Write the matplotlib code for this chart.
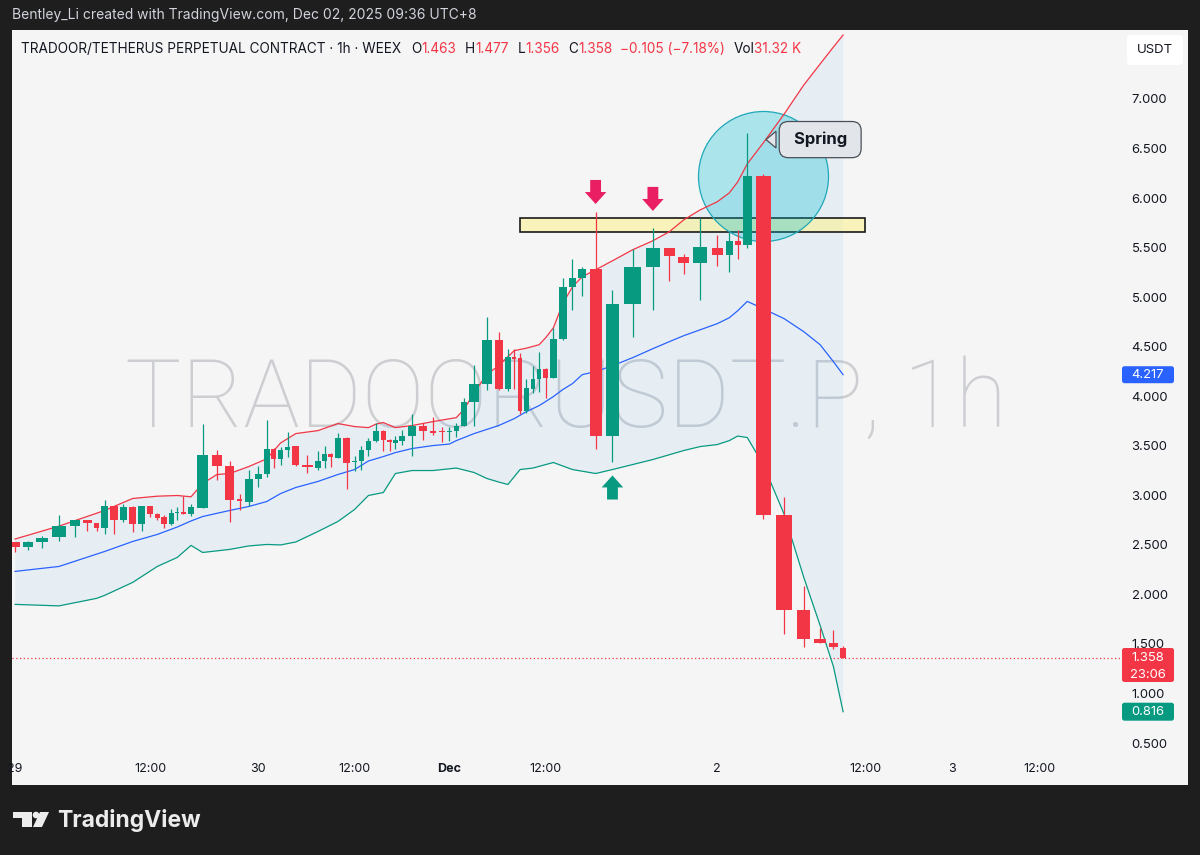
import numpy as np
import matplotlib
matplotlib.use("Agg")
import matplotlib.pyplot as plt
from matplotlib.patches import Rectangle, Polygon, Circle, FancyBboxPatch
from matplotlib.transforms import IdentityTransform

plt.rcParams['font.family'] = ['Inter', 'DejaVu Sans']

# TRADOOR/USDT perpetual, 1h candles, Nov 29 00:00 -> Dec 2 09:00 (UTC+8)
opens = [2.524, 2.474, 2.525, 2.578, 2.689, 2.750, 2.716, 2.672, 2.890, 2.750,
         2.885, 2.710, 2.890, 2.810, 2.785, 2.710, 2.820, 2.835, 2.810, 2.874,
         3.404, 3.293, 2.960, 2.930, 3.160, 3.220, 3.470, 3.370, 3.460, 3.495,
         3.310, 3.277, 3.350, 3.420, 3.378, 3.580, 3.334, 3.350, 3.460, 3.545,
         3.653, 3.560, 3.530, 3.545, 3.596, 3.700, 3.646, 3.645, 3.635, 3.646,
         3.700, 3.939, 4.127, 4.571, 4.075, 4.400, 4.386, 3.848, 4.075, 4.174,
         4.270, 4.185, 4.578, 5.102, 5.190, 5.283, 3.596, 4.933, 5.303, 5.495,
         5.410, 5.344, 5.495, 5.427, 5.569, 5.528, 6.224, 2.806, 1.842, 1.546,
         1.513, 1.463]
highs = [2.530, 2.538, 2.590, 2.806, 2.750, 2.755, 2.720, 2.951, 2.895, 2.910,
         2.890, 2.890, 2.893, 2.820, 2.800, 2.865, 2.880, 2.990, 2.910, 3.724,
         3.455, 3.350, 3.015, 3.260, 3.300, 3.757, 3.480, 3.485, 3.640, 3.500,
         3.410, 3.445, 3.495, 3.430, 3.630, 3.585, 3.395, 3.495, 3.580, 3.730,
         3.660, 3.565, 3.600, 3.660, 3.825, 3.730, 3.790, 3.690, 3.690, 3.730,
         3.980, 4.319, 4.800, 4.650, 4.480, 4.480, 4.440, 4.170, 4.300, 4.450,
         4.280, 4.690, 5.190, 5.384, 5.300, 5.864, 5.075, 5.485, 5.697, 5.500,
         5.440, 5.797, 5.630, 5.662, 5.680, 6.654, 6.244, 2.985, 2.084, 1.664,
         1.640, 1.477]
lows = [2.427, 2.447, 2.470, 2.537, 2.575, 2.640, 2.640, 2.612, 2.612, 2.730,
        2.630, 2.640, 2.780, 2.755, 2.670, 2.700, 2.755, 2.810, 2.790, 2.874,
        3.159, 2.729, 2.850, 2.890, 3.080, 3.180, 3.280, 3.310, 3.388, 3.300,
        3.227, 3.255, 3.277, 3.290, 3.378, 3.065, 3.244, 3.260, 3.400, 3.536,
        3.445, 3.445, 3.465, 3.510, 3.400, 3.560, 3.610, 3.540, 3.550, 3.590,
        3.700, 3.697, 4.067, 4.060, 4.050, 4.070, 3.820, 3.830, 4.030, 4.040,
        3.980, 4.180, 4.570, 4.873, 5.010, 3.469, 3.334, 4.594, 4.870, 5.158,
        5.236, 4.974, 5.310, 5.249, 5.384, 5.495, 2.763, 1.597, 1.473, 1.510,
        1.446, 1.356]
closes = [2.474, 2.528, 2.570, 2.689, 2.750, 2.720, 2.672, 2.890, 2.750, 2.885,
          2.710, 2.890, 2.810, 2.775, 2.710, 2.820, 2.835, 2.810, 2.880, 3.404,
          3.300, 2.951, 2.940, 3.160, 3.220, 3.470, 3.370, 3.460, 3.489, 3.310,
          3.283, 3.350, 3.420, 3.385, 3.580, 3.328, 3.350, 3.460, 3.545, 3.653,
          3.560, 3.535, 3.560, 3.595, 3.704, 3.646, 3.630, 3.635, 3.652, 3.700,
          3.939, 4.127, 4.571, 4.075, 4.396, 4.380, 3.848, 4.084, 4.174, 4.270,
          4.185, 4.578, 5.102, 5.190, 5.283, 3.596, 4.933, 5.303, 5.495, 5.417,
          5.344, 5.501, 5.427, 5.569, 5.528, 6.224, 2.806, 1.842, 1.546, 1.513,
          1.473, 1.358]
# hourly volume (K) - the chart draws candle width proportional to it
vol_k = [48.9, 52.5, 59.9, 73.2, 53.2, 44.2, 28.6, 34.5, 38.4, 36.8,
         36.4, 35.6, 30.9, 25.1, 28.6, 26.6, 21.9, 26.6, 33.3, 58.7,
         54.0, 47.4, 29.8, 42.3, 34.8, 30.1, 26.6, 26.6, 28.6, 36.0,
         54.8, 29.4, 22.3, 24.7, 34.1, 35.2, 26.6, 26.6, 29.4, 31.3,
         25.8, 23.1, 23.1, 30.5, 47.0, 41.5, 36.0, 32.9, 26.6, 28.6,
         31.3, 49.3, 50.5, 43.8, 28.6, 21.5, 24.7, 25.8, 24.7, 24.7,
         26.6, 34.1, 40.3, 36.0, 41.5, 63.8, 69.3, 90.0, 69.7, 58.7,
         56.4, 74.4, 58.7, 36.8, 29.8, 45.4, 80.6, 85.3, 68.9, 59.9,
         45.0, 31.32]
future_vol = 28.6

# Bollinger bands (20, 2), read at these candle numbers
bb_upper_at = [1, 4, 8, 11, 14, 17, 19, 20, 21, 22, 24, 26, 28, 30, 32, 35, 37, 39, 40, 41,
               43, 45, 47, 50, 51, 52, 53, 54, 55, 56, 58, 60, 61, 62, 63, 64, 65, 66, 67, 68,
               69, 70, 71, 72, 73, 74, 75, 76, 77, 78, 79, 80, 81, 82]
bb_upper = [2.559, 2.689, 2.847, 2.968, 2.991, 2.998, 2.985, 3.119, 3.210, 3.220,
            3.290, 3.368, 3.529, 3.623, 3.653, 3.724, 3.694, 3.683, 3.719, 3.734,
            3.683, 3.704, 3.744, 3.784, 3.865, 4.036, 4.218, 4.309, 4.399, 4.460,
            4.485, 4.520, 4.590, 4.690, 4.933, 5.105, 5.206, 5.276, 5.367, 5.478,
            5.569, 5.659, 5.780, 5.881, 5.962, 6.052, 6.163, 6.345, 6.556, 6.849,
            7.141, 7.353, 7.524, 7.645]
bb_mid_at = [1, 4, 8, 11, 14, 17, 19, 20, 22, 24, 26, 28, 30, 32, 35, 37, 39, 41, 43, 45,
             47, 49, 50, 52, 54, 56, 58, 60, 62, 63, 64, 65, 66, 67, 68, 69, 70, 71, 72, 73,
             74, 75, 76, 77, 78, 79, 80, 81, 82]
bb_mid = [2.232, 2.282, 2.433, 2.534, 2.605, 2.680, 2.741, 2.786, 2.847, 2.887,
          2.937, 3.018, 3.079, 3.140, 3.210, 3.260, 3.346, 3.391, 3.431, 3.472,
          3.502, 3.517, 3.552, 3.623, 3.704, 3.774, 3.845, 3.905, 3.996, 4.067,
          4.127, 4.218, 4.248, 4.308, 4.389, 4.480, 4.550, 4.611, 4.671, 4.732,
          4.792, 4.863, 4.957, 4.883, 4.782, 4.651, 4.520, 4.349, 4.217]
bb_lower_at = [1, 4, 7, 8, 11, 14, 17, 19, 20, 22, 24, 26, 28, 30, 32, 35, 37, 39, 41, 43,
               45, 47, 50, 52, 53, 54, 55, 57, 59, 62, 64, 66, 67, 69, 71, 72, 73, 74, 75, 76,
               77, 78, 79, 80, 81, 82]
bb_lower = [1.899, 1.884, 1.960, 1.990, 2.121, 2.282, 2.373, 2.494, 2.423, 2.454,
            2.489, 2.504, 2.499, 2.529, 2.635, 2.736, 2.857, 2.998, 3.028, 3.220,
            3.250, 3.250, 3.275, 3.230, 3.170, 3.134, 3.109, 3.260, 3.275, 3.331,
            3.260, 3.220, 3.260, 3.361, 3.452, 3.492, 3.512, 3.552, 3.598, 3.583,
            3.310, 2.806, 2.171, 1.687, 1.272, 0.816]

time_labels = ["29", "12:00", "30", "12:00", "Dec", "12:00", "2", "12:00", "3", "12:00"]
time_bars = [0, 12, 24, 36, 48, 60, 72, 84, 96, 108]
price_ticks = [0.5, 1.0, 1.5, 2.0, 2.5, 3.0, 3.5, 4.0, 4.5, 5.0, 5.5, 6.0, 6.5, 7.0]
last_close, countdown = 1.358, "23:06"

GREEN, RED, BLUE, PINK = '#089981', '#f23645', '#2962ff', '#e91e63'
INK = '#131722'
W, H = 1200, 855

# x positions: each hourly bar occupies a slot as wide as its volume
vol = np.array(vol_k)
edges = np.concatenate([[0], np.cumsum(vol)])
x = edges[:-1] + vol / 2


def bar_x(k):
    if k < len(vol):
        return x[k]
    return edges[-1] + future_vol * (k - len(vol)) + future_vol / 2


def px(xp, yp_top):
    return xp, H - yp_top


fig = plt.figure(figsize=(W / 100, H / 100), dpi=100, facecolor='#1e1e1e')
fig.add_artist(Rectangle((12, H - 785), 1176, 755, transform=IdentityTransform(),
                         fc='#f5f5f5', ec='none', zorder=-5))

ax = fig.add_axes([12 / W, 100 / H, 1096 / W, 725 / H])
ax.set_facecolor('none')
for s in ax.spines.values():
    s.set_visible(False)
ax.set_xlim(x[0] - 0.25 * vol[0], edges[-1] + 36 * future_vol)
ax.set_ylim(0.379, 7.696)

# watermark
ax.text(0.5055, 0.488, 'TRADOORUSDT.P, 1h', transform=ax.transAxes, fontsize=68,
        family=['Roboto', 'DejaVu Sans'], fontweight='light', color='#cdced2',
        ha='center', va='center', zorder=0)

# bollinger bands
xu = x[np.array(bb_upper_at) - 1]
xm = x[np.array(bb_mid_at) - 1]
xl = x[np.array(bb_lower_at) - 1]
ax.fill(np.r_[xu, xl[::-1]], np.r_[bb_upper, bb_lower[::-1]], color='#2196f3', alpha=0.07, lw=0, zorder=1)
ax.plot(xu, bb_upper, color=RED, lw=0.9, zorder=4)
ax.plot(xm, bb_mid, color=BLUE, lw=0.9, zorder=4)
ax.plot(xl, bb_lower, color=GREEN, lw=0.9, zorder=4)

# resistance zone and spring circle
zone_lo, zone_hi = 5.659, 5.800
ax.add_patch(Rectangle((x[56], zone_lo), bar_x(84) - x[56], zone_hi - zone_lo,
                       fc=(1.0, 0.945, 0.46, 0.45), ec='#1a1a1a', lw=1.2, zorder=2))
ax.plot([x[76]], [6.22], 'o', ms=93.6, mfc=(0.0, 0.74, 0.83, 0.3), mec='#1fa8b8', mew=0.9, zorder=3)

# candles
o, h, l, c = map(np.array, (opens, highs, lows, closes))
cols = np.where(c >= o, GREEN, RED)
ax.vlines(x, l, h, colors=cols, lw=0.9, zorder=5)
ax.bar(x, np.maximum(np.abs(c - o), 0.012), width=0.75 * vol, bottom=np.minimum(o, c),
       color=cols, lw=0, zorder=6)

# last price line
ax.axhline(last_close, xmax=1.013, color=RED, lw=0.9, ls=(0, (1, 2)), zorder=3, clip_on=False)

# signal arrows
arrow = 'simple,head_length=0.86,head_width=1.55,tail_width=0.78'
for k, yv, dy, col in [(65, 5.94, 17.3, PINK), (68, 5.87, 17.3, PINK), (66, 3.20, -17.3, GREEN)]:
    ax.annotate('', xy=(x[k], yv), xytext=(0, dy), textcoords='offset points',
                arrowprops=dict(arrowstyle=arrow, fc=col, ec='none', mutation_scale=10,
                                shrinkA=0, shrinkB=0), zorder=8)

ax.annotate(' Spring ', xy=(x[76], 6.59), xytext=(41, 0), textcoords='offset points',
            ha='center', va='center', fontsize=12, fontweight='bold', color=INK,
            bbox=dict(boxstyle='round,pad=0.62,rounding_size=0.55', fc='#e2e6ea', ec='#4b4f58', lw=0.9),
            arrowprops=dict(arrowstyle='wedge,tail_width=1.0,shrink_factor=0.5',
                            fc='#e2e6ea', ec='#4b4f58', lw=0.9), zorder=9)

# axes ticks
ax.set_yticks(price_ticks)
ax.set_yticklabels([f'{v:.3f}' for v in price_ticks])
ax.yaxis.tick_right()
ax.tick_params(axis='y', length=0, pad=17, labelsize=9.4, labelcolor=INK)
ax.set_xticks([bar_x(k) for k in time_bars])
ax.set_xticklabels(time_labels)
ax.tick_params(axis='x', length=0, pad=6, labelsize=9, labelcolor=INK)
ax.get_xticklabels()[4].set_fontweight('bold')


# price scale tags
def tag(price, lines, color, up_px, down_px):
    yc = ax.transData.transform((0, price))[1]
    fig.add_artist(FancyBboxPatch((1122, yc - down_px), 52, up_px + down_px,
                                  boxstyle='round,pad=0,rounding_size=2.5',
                                  transform=IdentityTransform(), fc=color, ec='none', zorder=10))
    for i, s in enumerate(lines):
        fig.text(1148, yc - 17 * i, s, transform=IdentityTransform(), color='white',
                 fontsize=9.4, ha='center', va='center', zorder=11)


tag(bb_mid[-1], ['4.217'], BLUE, 8.5, 8.5)
tag(last_close, [f'{last_close:.3f}', countdown], RED, 10, 24)
tag(bb_lower[-1], ['0.816'], GREEN, 9, 9)

fig.add_artist(FancyBboxPatch(px(1127, 65), 56, 30, boxstyle='round,pad=0,rounding_size=4',
                              transform=IdentityTransform(), fc='white', ec='none', zorder=10))
fig.text(*px(1155, 50), 'USDT', transform=IdentityTransform(), color=INK, fontsize=9.5,
         ha='center', va='center', zorder=11)

# header lines
fig.text(*px(12, 15), 'Bentley_Li created with TradingView.com, Dec 02, 2025 09:36 UTC+8',
         transform=IdentityTransform(), color='#d1d4dc', fontsize=10, va='center')

renderer = fig.canvas.get_renderer()
pieces = [('TRADOOR/TETHERUS PERPETUAL CONTRACT · 1h · WEEX', INK, 10),
          ('O', INK, 0), ('1.463', RED, 9), ('H', INK, 0), ('1.477', RED, 9),
          ('L', INK, 0), ('1.356', RED, 9), ('C', INK, 0), ('1.358', RED, 7),
          ('−0.105 (−7.18%)', RED, 9), ('Vol', INK, 0), ('31.32 K', RED, 0)]
xc = 21
for s, col, gap in pieces:
    t = fig.text(*px(xc, 49), s, transform=IdentityTransform(), color=col, fontsize=9.8, va='center')
    xc += t.get_window_extent(renderer).width + gap

# footer logo
logo = '#ececec'
fig.add_artist(Polygon([px(13, 812), px(32, 812), px(32, 827), px(22, 827), px(22, 818), px(13, 818)],
                       closed=True, transform=IdentityTransform(), fc=logo, ec='none'))
fig.add_artist(Circle(px(36, 815), 3.3, transform=IdentityTransform(), fc=logo, ec='none'))
fig.add_artist(Polygon([px(40, 812), px(49, 812), px(42, 827), px(33, 827)],
                       closed=True, transform=IdentityTransform(), fc=logo, ec='none'))
fig.text(*px(57, 820), 'TradingView', transform=IdentityTransform(), color=logo,
         fontsize=16.5, fontweight='bold', va='center')

fig.savefig('out.png', dpi=100, facecolor=fig.get_facecolor())
